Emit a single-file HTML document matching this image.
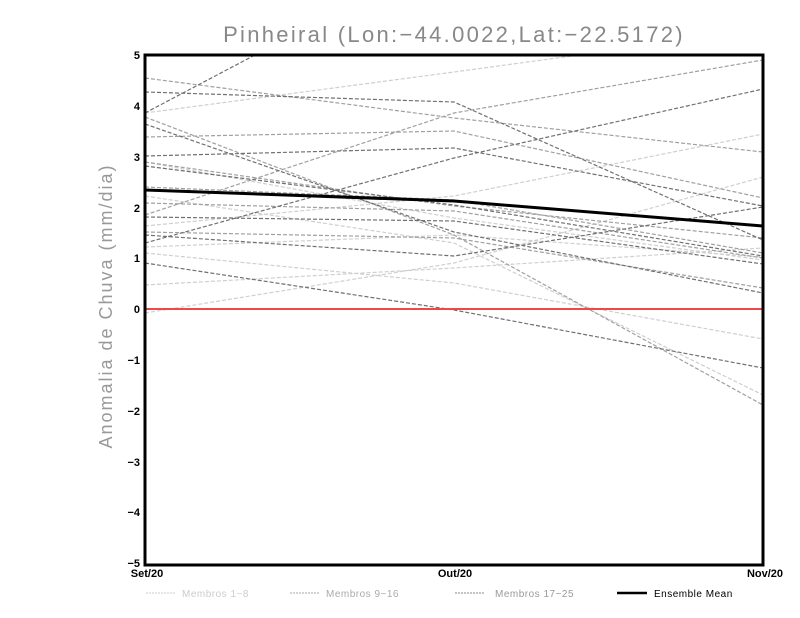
<!DOCTYPE html>
<html><head><meta charset="utf-8"><style>
body{margin:0;background:#fff;width:800px;height:618px;overflow:hidden}
svg{display:block}
text{font-family:"Liberation Sans",sans-serif}
</style></head><body>
<svg width="800" height="618" viewBox="0 0 800 618" xmlns="http://www.w3.org/2000/svg">
<defs><clipPath id="c"><rect x="145" y="55" width="618" height="510"/></clipPath></defs>
<text x="454" y="42" text-anchor="middle" font-size="22" fill="#888" letter-spacing="2.3">Pinheiral (Lon:−44.0022,Lat:−22.5172)</text>
<g clip-path="url(#c)" fill="none" stroke-dasharray="4,2" stroke-width="1.2">
<g stroke="#cfcfcf">
<polyline points="145,113 454,72 763,30"/>
<polyline points="145,162 454,218 763,260"/>
<polyline points="145,313 454,263 763,177"/>
<polyline points="145,285 454,268 763,248"/>
<polyline points="145,253 454,283 763,339"/>
<polyline points="145,226 454,196 763,134"/>
<polyline points="145,196 454,243 763,395"/>
<polyline points="145,247 454,235 763,257"/>
</g>
<g stroke="#a0a0a0">
<polyline points="145,78 454,118 763,152"/>
<polyline points="145,137 454,131 763,198"/>
<polyline points="145,215 454,113 763,60"/>
<polyline points="145,117 454,235 763,405"/>
<polyline points="145,203 454,211 763,258"/>
<polyline points="145,187 454,200 763,253"/>
<polyline points="145,232 454,238 763,288"/>
<polyline points="145,162 454,206 763,238"/>
</g>
<g stroke="#707070">
<polyline points="145,113 454,-50"/>
<polyline points="145,92 454,102 763,240"/>
<polyline points="145,243 454,158 763,89"/>
<polyline points="145,156 454,148 763,206"/>
<polyline points="145,124 454,232 763,293"/>
<polyline points="145,263 454,310 763,368"/>
<polyline points="145,235 454,256 763,207"/>
<polyline points="145,166 454,205 763,256"/>
<polyline points="145,217 454,221 763,264"/>
</g>
</g>
<line x1="145" y1="309" x2="763" y2="309" stroke="#f04848" stroke-width="2"/>
<polyline points="145,190 454,201 763,226" fill="none" stroke="#000" stroke-width="3"/>
<rect x="145" y="55" width="618" height="510" fill="none" stroke="#000" stroke-width="3"/>
<g font-size="11" font-weight="bold" text-anchor="end" fill="#000">
<text x="140" y="59">5</text><text x="140" y="110">4</text><text x="140" y="161">3</text>
<text x="140" y="212">2</text><text x="140" y="262">1</text><text x="140" y="313">0</text>
<text x="140" y="364">−1</text><text x="140" y="415">−2</text><text x="140" y="466">−3</text>
<text x="140" y="516">−4</text><text x="140" y="567">−5</text>
</g>
<g font-size="11" font-weight="bold" text-anchor="middle">
<text x="147" y="577">Set/20</text><text x="455" y="577">Out/20</text><text x="765" y="577">Nov/20</text>
</g>
<text transform="translate(112,306) rotate(-90)" text-anchor="middle" font-size="18" fill="#999" letter-spacing="2">Anomalia de Chuva (mm/dia)</text>
<g font-size="10" letter-spacing="0.5">
<line x1="146" y1="593" x2="176" y2="593" stroke="#ccc" stroke-dasharray="2,1"/><text x="182" y="597" fill="#ccc">Membros 1−8</text>
<line x1="290" y1="593" x2="320" y2="593" stroke="#aaa" stroke-dasharray="2,1"/><text x="326" y="597" fill="#aaa">Membros 9−16</text>
<line x1="455" y1="593" x2="485" y2="593" stroke="#888" stroke-dasharray="2,1"/><text x="495" y="597" fill="#999">Membros 17−25</text>
<line x1="617" y1="593" x2="647" y2="593" stroke="#000" stroke-width="2.5"/><text x="654" y="597" fill="#000">Ensemble Mean</text>
</g>
</svg>
</body></html>
